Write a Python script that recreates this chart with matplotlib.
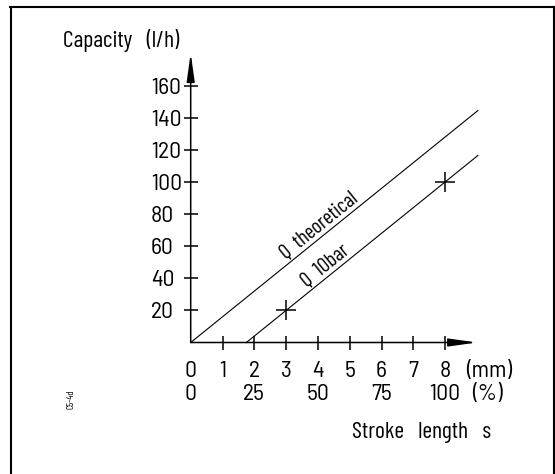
import matplotlib
matplotlib.use("Agg")
import matplotlib.pyplot as plt
from matplotlib.lines import Line2D
import numpy as np

NUM_FONT = ['Barlow Semi Condensed', 'DejaVu Sans']
WORD_FONT = ['Barlow Condensed', 'DejaVu Sans']
plt.rcParams['font.family'] = WORD_FONT

# ---- data -------------------------------------------------------------
stroke_ticks_mm = [1, 2, 3, 4, 5, 6, 7, 8]
stroke_labels_mm = ["0", "1", "2", "3", "4", "5", "6", "7", "8"]
stroke_pct_pos = [0, 2, 4, 6, 8]
stroke_pct_labels = ["0", "25", "50", "75", "100"]
capacity_ticks = [20, 40, 60, 80, 100, 120, 140, 160]

# theoretical capacity (l/h) vs stroke length (mm)
q_theo_s = [0.0, 9.03]
q_theo_q = [0.0, 144.5]
# capacity at 10 bar
q_10bar_s = [1.75, 9.03]
q_10bar_q = [0.0, 116.5]
# measured points on the 10 bar line
meas_s = [3, 8]
meas_q = [20, 100]

# ---- canvas geometry (pixels) ----------------------------------------
W, H, DPI = 555, 474, 100
X0, KX = 190.7, 31.8     # pixel x of s=0, pixels per mm
Y0, KY = 342.5, 1.605    # pixel y (from top) of Q=0, pixels per l/h

fig = plt.figure(figsize=(W / DPI, H / DPI), dpi=DPI)
ax = fig.add_axes([0, 0, 1, 1])
ax.set_xlim(-X0 / KX, (W - X0) / KX)
ax.set_ylim((Y0 - H) / KY, Y0 / KY)
ax.axis("off")

# outer frame
def fline(x1, y1, x2, y2, lw=1.5):
    fig.add_artist(Line2D([x1 / W, x2 / W], [1 - y1 / H, 1 - y2 / H],
                          transform=fig.transFigure, color="black", lw=lw))

fline(11, 7, 11, H)
fline(10, 7, W, 7)
fline(553.5, 7, 553.5, H)

# axes with arrow heads
x_end = 9.0
y_end = 180.2
arrow = dict(arrowstyle="-|>,head_length=17,head_width=2.4",
             mutation_scale=1, color="black", lw=1.1, shrinkA=0, shrinkB=0)
ax.annotate("", xy=(x_end, 0), xytext=(0, 0), arrowprops=arrow)
ax.annotate("", xy=(0, y_end), xytext=(0, 0), arrowprops=arrow)

# tick marks crossing the axes
ax.plot(stroke_ticks_mm, [0] * len(stroke_ticks_mm), ls="none",
        marker="|", ms=9.5, mew=1.1, color="black")
ax.plot([0] * len(capacity_ticks), capacity_ticks, ls="none",
        marker="_", ms=9.6, mew=1.1, color="black")

FS = 17
cap_half = 7.8 / KY   # half cap height, in l/h

# y tick labels (left aligned column)
for q in capacity_ticks:
    ax.text((151 - X0) / KX, q - cap_half, str(q), fontsize=FS,
            family=NUM_FONT, ha="left", va="baseline")

# x tick labels: mm row and % row
row1 = (Y0 - 377) / KY
row2 = (Y0 - 400.5) / KY
for i, lab in enumerate(stroke_labels_mm):
    ax.text(i, row1, lab, fontsize=FS, family=NUM_FONT,
            ha="center", va="baseline")
ax.text(9.40, row1, "(mm)", fontsize=FS, family=NUM_FONT,
        ha="center", va="baseline")
for p, lab in zip(stroke_pct_pos, stroke_pct_labels):
    ax.text(p, row2, lab, fontsize=FS, family=NUM_FONT,
            ha="center", va="baseline")
ax.text(9.33, row2, "(%)", fontsize=FS, family=NUM_FONT,
        ha="center", va="baseline")

# axis titles
ax.text((63.3 - X0) / KX, (Y0 - 46.7) / KY, "Capacity   (l/h)",
        fontsize=17, ha="left", va="baseline")
ax.text((351.7 - X0) / KX, (Y0 - 438) / KY, "Stroke   length   s",
        fontsize=17, ha="left", va="baseline")

# drawing code
ax.text((71.5 - X0) / KX, (Y0 - 399) / KY, "C5-4d", fontsize=7,
        rotation=90, ha="center", va="center")

# capacity lines
ax.plot(q_theo_s, q_theo_q, color="black", lw=0.8)
ax.plot(q_10bar_s, q_10bar_q, color="black", lw=0.8)
ax.plot(meas_s, meas_q, ls="none", marker="+", ms=14, mew=1.1,
        color="black")

# labels along the lines
slope = (q_theo_q[1] - q_theo_q[0]) / (q_theo_s[1] - q_theo_s[0])
ang = np.degrees(np.arctan2(slope * KY, KX))
off = 4.5
dxp, dyp = -off * np.sin(np.radians(ang)), off * np.cos(np.radians(ang))

def line_label(s0, s_start, txt):
    q0 = slope * (s0 - s_start)
    x = s0 + dxp / KX
    y = q0 + dyp / KY
    ax.text(x, y, txt, fontsize=15, rotation=ang, rotation_mode="anchor",
            ha="left", va="baseline")

line_label(3.1, 0.0, "Q  theoretical")
line_label(3.75, 1.75, "Q  10bar")

fig.savefig("out.png", dpi=DPI)
